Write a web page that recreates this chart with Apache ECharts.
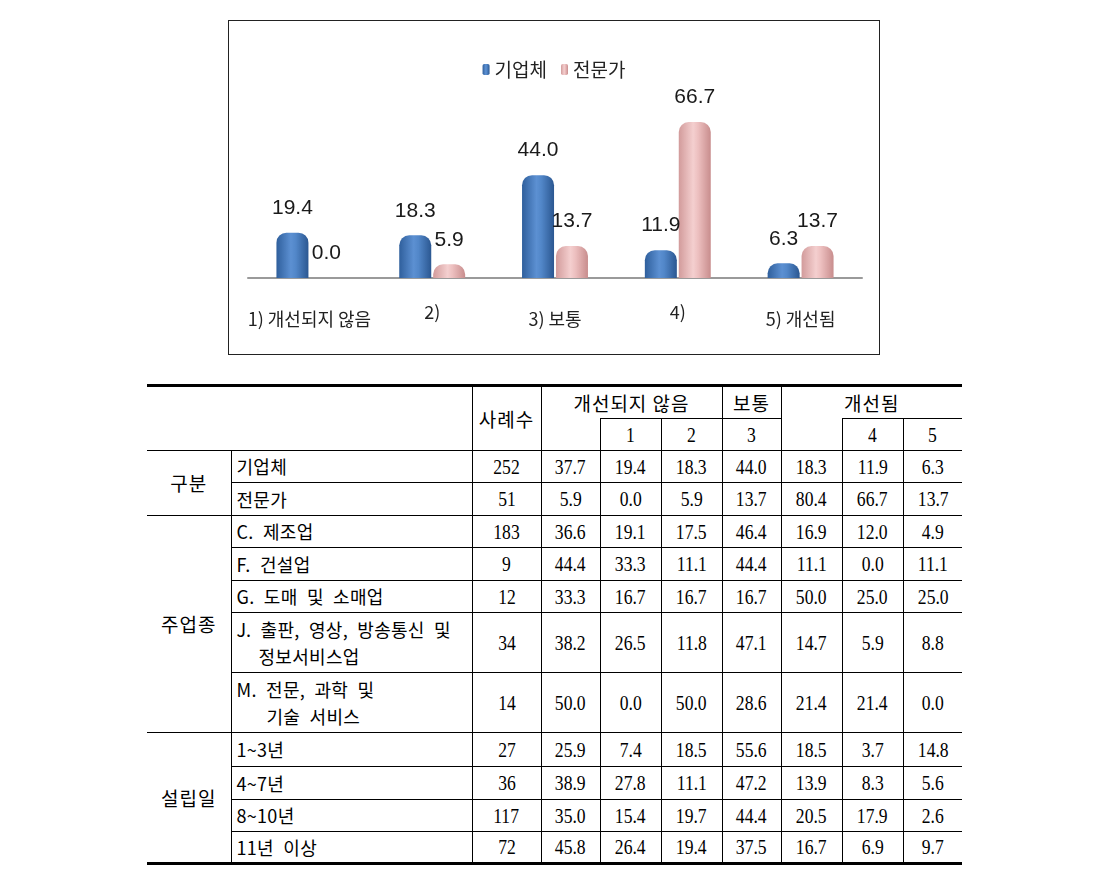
<!DOCTYPE html>
<html>
<head>
<meta charset="utf-8">
<script src="https://cdn.jsdelivr.net/npm/echarts@6/dist/echarts.min.js"></script>
<style>
  html, body { margin:0; padding:0; background:#fff; width:1105px; height:890px; overflow:hidden; }
  #box { position:absolute; left:228px; top:20px; width:650px; height:333px; border:1px solid #222; background:#fff; }
  #chart { width:650px; height:333px; }
  #tbl { position:absolute; left:147px; top:384px; border-collapse:collapse; table-layout:fixed; width:815px;
         font-family:"Liberation Serif","Noto Sans CJK KR",serif; color:#000; }
  #tbl td { border:1px solid #000; padding:0; text-align:center; vertical-align:middle; font-size:17px; line-height:1.15; white-space:nowrap; }
  #tbl .ko { font-family:"Noto Sans CJK KR",sans-serif; font-size:18px; }
  #tbl .hd { font-size:19px; letter-spacing:1px; }
  #tbl .lbl { text-align:left; padding-left:5px; word-spacing:5px; letter-spacing:0.3px; line-height:1.5; }
  #tbl .n { display:inline-block; font-size:22px; transform:scaleX(0.8); }
  #tbl .first { border-left:none; }
  #tbl .last { border-right:none; }
  #tbl .top { border-top:3px solid #000; }
  #tbl .bot { border-bottom:3px solid #000; }
</style>
</head>
<body>
<div id="box"><div id="chart"></div></div>
<table id="tbl"></table>
<script>
// ---- chart data ----
const chartCategories = ['1) 개선되지 않음', '2)', '3) 보통', '4)', '5) 개선됨'];
const seriesNames = ['기업체', '전문가'];
const companyValues = [19.4, 18.3, 44.0, 11.9, 6.3];
const expertValues = [0.0, 5.9, 13.7, 66.7, 13.7];

// ---- table data ----
const headerGroups = ['개선되지 않음', '보통', '개선됨'];
const headerCount = '사례수';
const headerSub = ['', '1', '2', '3', '', '4', '5'];
const groupNames = ['구분', '주업종', '설립일'];
const groupSizes = [2, 5, 4];
const rowLabels = [
  ['기업체'], ['전문가'],
  ['C. 제조업'], ['F. 건설업'], ['G. 도매 및 소매업'],
  ['J. 출판, 영상, 방송통신 및', '정보서비스업'],
  ['M. 전문, 과학 및', '기술 서비스'],
  ['1~3년'], ['4~7년'], ['8~10년'], ['11년 이상']
];
const rowCounts = [252, 51, 183, 9, 12, 34, 14, 27, 36, 117, 72];
const rowValues = [
  [37.7, 19.4, 18.3, 44.0, 18.3, 11.9, 6.3],
  [5.9, 0.0, 5.9, 13.7, 80.4, 66.7, 13.7],
  [36.6, 19.1, 17.5, 46.4, 16.9, 12.0, 4.9],
  [44.4, 33.3, 11.1, 44.4, 11.1, 0.0, 11.1],
  [33.3, 16.7, 16.7, 16.7, 50.0, 25.0, 25.0],
  [38.2, 26.5, 11.8, 47.1, 14.7, 5.9, 8.8],
  [50.0, 0.0, 50.0, 28.6, 21.4, 21.4, 0.0],
  [25.9, 7.4, 18.5, 55.6, 18.5, 3.7, 14.8],
  [38.9, 27.8, 11.1, 47.2, 13.9, 8.3, 5.6],
  [35.0, 15.4, 19.7, 44.4, 20.5, 17.9, 2.6],
  [45.8, 26.4, 19.4, 37.5, 16.7, 6.9, 9.7]
];

// ---- build chart ----
const chart = echarts.init(document.getElementById('chart'), null, { renderer: 'canvas' });
const blueGrad = new echarts.graphic.LinearGradient(0, 0, 1, 0, [
  { offset: 0, color: '#2f5f9c' }, { offset: 0.45, color: '#5c90d2' },
  { offset: 0.6, color: '#5287c9' }, { offset: 1, color: '#2b5791' }]);
const pinkGrad = new echarts.graphic.LinearGradient(0, 0, 1, 0, [
  { offset: 0, color: '#d29b9b' }, { offset: 0.45, color: '#f4cfcf' },
  { offset: 0.6, color: '#edc0c0' }, { offset: 1, color: '#c88d8d' }]);
const labelFont = { show: true, position: 'top', distance: 14, fontSize: 21, color: '#1a1a1a',
  fontFamily: '"Liberation Sans Narrow","Liberation Sans","Noto Sans CJK KR",sans-serif',
  formatter: p => p.value.toFixed(1) };
chart.setOption({
  animation: false,
  legend: {
    top: 34, left: 'center', itemWidth: 7, itemHeight: 11, itemGap: 14,
    textStyle: { fontSize: 19, color: '#222', fontFamily: '"Noto Sans CJK KR",sans-serif' },
    data: seriesNames
  },
  grid: { left: 19, right: 17, top: 70, bottom: 76 },
  xAxis: {
    type: 'category',
    data: chartCategories.map((c, i) => (i % 2 === 0
      ? { value: c, textStyle: { padding: [7, 0, 0, 0] } }
      : { value: c })),
    axisLine: { lineStyle: { color: '#9a9a9a', width: 2 } },
    axisTick: { show: false },
    axisLabel: { margin: 25, fontSize: 18, color: '#222', interval: 0,
      fontFamily: '"Noto Sans CJK KR",sans-serif' }
  },
  yAxis: { type: 'value', min: 0, max: 80, show: false, splitLine: { show: false } },
  series: [
    { name: seriesNames[0], type: 'bar', data: companyValues, barWidth: 32, barGap: '6%',
      itemStyle: { color: blueGrad, borderRadius: [10, 10, 0, 0] }, label: labelFont },
    { name: seriesNames[1], type: 'bar', data: expertValues, barWidth: 32,
      itemStyle: { color: pinkGrad, borderRadius: [10, 10, 0, 0] }, label: labelFont }
  ]
});

// ---- build table ----
const colWidths = [84, 241, 69, 59, 61, 61, 59, 61, 61, 59];
const rowHeights = [32, 33, 32, 33, 32, 60, 60, 34, 33, 32, 32];
const tbl = document.getElementById('tbl');
let html = '<colgroup>' + colWidths.map(w => `<col style="width:${w}px">`).join('') + '</colgroup>';
html += `<tr style="height:33px">
  <td class="first top" colspan="2" rowspan="2" style="border-right:1px solid #000"></td>
  <td class="top ko hd" rowspan="2">${headerCount}</td>
  <td class="top ko hd" colspan="3" style="border-bottom:none">${headerGroups[0]}</td>
  <td class="top ko hd">${headerGroups[1]}</td>
  <td class="top ko hd last" colspan="3" style="border-bottom:none">${headerGroups[2]}</td></tr>`;
html += '<tr style="height:32px">' + headerSub.map((h, i) => {
  const cls = i === headerSub.length - 1 ? 'last' : '';
  const st = h === '' ? 'border-top:none' : 'border-top:1px solid #000';
  return `<td class="${cls}" style="${st}"><span class="n">${h}</span></td>`;
}).join('') + '</tr>';
let r = 0;
groupNames.forEach((g, gi) => {
  for (let k = 0; k < groupSizes[gi]; k++) {
    const isLast = r === rowLabels.length - 1;
    const bot = isLast ? ' bot' : '';
    html += `<tr style="height:${rowHeights[r]}px">`;
    if (k === 0) html += `<td class="first ko hd${gi === groupNames.length - 1 ? ' bot' : ''}" rowspan="${groupSizes[gi]}">${g}</td>`;
    const lab = rowLabels[r].map((t, li) => li === 0 ? t : `<br><span style="padding-left:${r === 5 ? 22 : 30}px">${t}</span>`).join('');
    html += `<td class="ko lbl${bot}">${lab}</td>`;
    html += `<td class="${bot}"><span class="n">${rowCounts[r]}</span></td>`;
    rowValues[r].forEach((v, vi) => {
      html += `<td class="${bot}${vi === rowValues[r].length - 1 ? ' last' : ''}"><span class="n">${v.toFixed(1)}</span></td>`;
    });
    html += '</tr>';
    r++;
  }
});
tbl.innerHTML = html;
</script>
</body>
</html>
